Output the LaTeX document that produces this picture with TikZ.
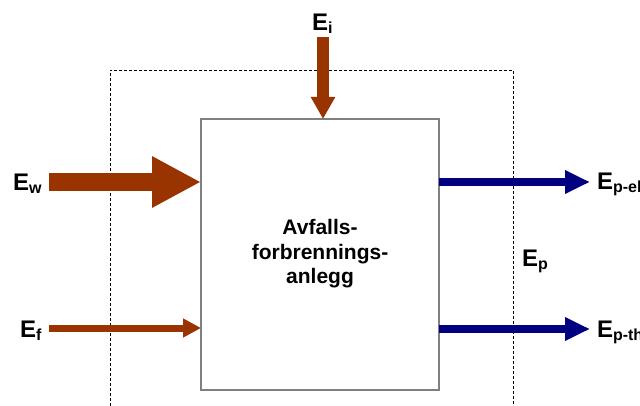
\documentclass[tikz,border=0pt]{standalone}
\usepackage{fontspec}
\setmainfont{Liberation Sans}
\usetikzlibrary{arrows.meta}
\definecolor{flowbrown}{HTML}{993300}
\definecolor{flownavy}{HTML}{000080}
\newcommand\lowsub[1]{\raisebox{-3pt}{\fontsize{16}{16}\selectfont #1}}
\begin{document}
\begin{tikzpicture}[x=1pt,y=-1pt,
  lbl/.style={anchor=base west, inner sep=0pt, outer sep=0pt,
    font=\fontsize{24}{24}\selectfont\bfseries},
  inflow/.style={draw=flowbrown, fill=flowbrown},
  outflow/.style={draw=flownavy, fill=flownavy},
  frame/.style={draw=black, line width=0.9pt, dash pattern=on 3pt off 2pt}
]
\useasboundingbox (0,0) rectangle (640,406);
% dashed system boundary (open at bottom)
\draw[frame] (110,406) -- (110,70) -- (513,70) -- (513,406);
% plant box
\node[draw=gray, line width=2pt, minimum width=238pt, minimum height=271pt,
  anchor=north west, inner sep=0pt, outer sep=0pt, fill=white] (box) at (201,119) {};
\node[align=center, font=\fontsize{21}{24.5}\selectfont\bfseries] (txt) at (320,254)
  {Avfalls-\\forbrennings-\\anlegg};
% labels
\node[lbl] (Ew) at (13,191) {E\lowsub{w}};
\node[lbl] (Ef) at (20,337) {E\lowsub{f}};
\node[lbl] (Ei) at (312,31) {E\lowsub{i}};
\node[lbl] (Epel) at (597,190) {E\lowsub{p-el}};
\node[lbl] (Epth) at (597,337) {E\lowsub{p-th}};
\node[lbl] (Ep) at (522,266) {E\lowsub{p}};
% arrow ends
\coordinate (ew0) at (49,182);
\coordinate (ef0) at (49,328);
\coordinate (ei0) at (323,37);
\coordinate (el1) at (590,182);
\coordinate (th1) at (590,329);
% arrows
\draw[inflow, line width=18pt, -{Triangle[length=49pt,width=48pt]}] (ew0) -- (box.west |- ew0);
\draw[inflow, line width=7pt, -{Triangle[length=18pt,width=18pt]}] (ef0) -- (box.west |- ef0);
\draw[inflow, line width=12pt, -{Triangle[length=22pt,width=23pt]}] (ei0) -- (ei0 |- box.north);
\draw[outflow, line width=8pt, -{Triangle[length=25pt,width=22pt]}] (box.east |- el1) -- (el1);
\draw[outflow, line width=8pt, -{Triangle[length=25pt,width=22pt]}] (box.east |- th1) -- (th1);
\end{tikzpicture}
\end{document}
